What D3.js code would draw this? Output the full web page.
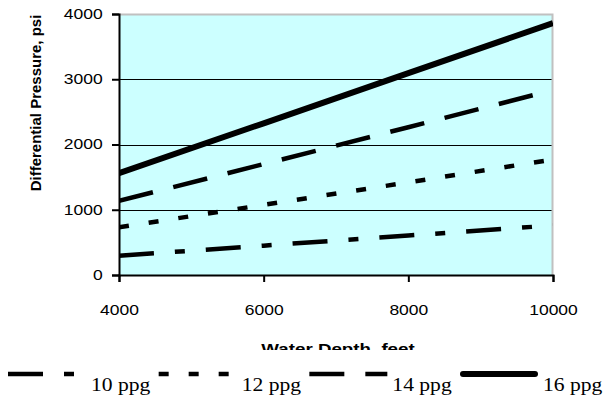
<!DOCTYPE html>
<html>
<head>
<meta charset="utf-8">
<script src="https://cdn.jsdelivr.net/npm/d3@7"></script>
<style>
  html, body { margin: 0; padding: 0; background: #fff; }
  svg { display: block; }
</style>
</head>
<body>
<div id="chart"></div>
<script>
// water depth (feet) and differential pressure (psi) per mud weight
const depths = [4000, 6000, 8000, 10000];
const seriesNames = ['10 ppg', '12 ppg', '14 ppg', '16 ppg'];
const ppg10 = [295, 450, 605, 760];
const ppg12 = [730, 1075, 1420, 1770];
const ppg14 = [1135, 1700, 2265, 2835];
const ppg16 = [1560, 2325, 3095, 3860];
const xTicks = [4000, 6000, 8000, 10000];
const yTicks = [0, 1000, 2000, 3000, 4000];

(function () {
  const W = 603, H = 397;
  const margin = { top: 14, right: 50, bottom: 122, left: 119 };
  const w = W - margin.left - margin.right;
  const h = H - margin.top - margin.bottom;
  const stretch = 1.25; // text in the original is widened horizontally
  const sans = '"Liberation Sans", Arial, sans-serif';
  const serif = '"Liberation Serif", "Times New Roman", serif';

  const series = [
    { name: seriesNames[0], values: ppg10, dash: '35,21,10,21', width: 4.5 },
    { name: seriesNames[1], values: ppg12, dash: '10,20', width: 4.5 },
    { name: seriesNames[2], values: ppg14, dash: '35,21', width: 4.5 },
    { name: seriesNames[3], values: ppg16, dash: null, width: 6 },
  ];

  const svg = d3.select('#chart').append('svg')
    .attr('width', W)
    .attr('height', H);

  const g = svg.append('g').attr('transform', `translate(${margin.left},${margin.top})`);

  const x = d3.scaleLinear().domain([4000, 10000]).range([0, w]);
  const y = d3.scaleLinear().domain([0, 4000]).range([h, 0]);

  g.append('rect')
    .attr('width', w)
    .attr('height', h)
    .attr('fill', '#ccffff');

  // horizontal grid
  g.selectAll('.grid')
    .data(yTicks.filter(d => d > 0 && d < 4000))
    .join('line')
    .attr('x1', 0)
    .attr('x2', w)
    .attr('y1', d => Math.round(y(d)) + 0.5)
    .attr('y2', d => Math.round(y(d)) + 0.5)
    .attr('stroke', '#000')
    .attr('stroke-width', 1);

  // gray frame top / right
  g.append('path')
    .attr('d', `M0,0.5H${w - 0.5}V${h}`)
    .attr('fill', 'none')
    .attr('stroke', '#c0c0c0')
    .attr('stroke-width', 2);

  svg.append('clipPath').attr('id', 'plotClip')
    .append('rect').attr('width', w).attr('height', h);

  const line = d3.line()
    .x((d, i) => x(depths[i]))
    .y(d => y(d));

  g.append('g')
    .attr('clip-path', 'url(#plotClip)')
    .selectAll('path')
    .data(series)
    .join('path')
    .attr('d', d => line(d.values))
    .attr('fill', 'none')
    .attr('stroke', '#000')
    .attr('stroke-width', d => d.width)
    .attr('stroke-dasharray', d => d.dash);

  // axes
  g.append('g')
    .attr('transform', `translate(0,${h})`)
    .call(d3.axisBottom(x).tickValues(xTicks).tickSize(7).tickPadding(23).tickFormat(d3.format('d')))
    .call(a => a.select('.domain').attr('stroke', '#000').attr('stroke-width', 2))
    .call(a => a.selectAll('.tick line').attr('stroke', '#000').attr('stroke-width', 2))
    .selectAll('text')
    .attr('fill', '#000')
    .style('font-family', sans)
    .style('font-size', '14px')
    .attr('transform', `scale(${stretch},1)`);

  g.append('g')
    .call(d3.axisLeft(y).tickValues(yTicks).tickSize(7).tickPadding(6).tickFormat(d3.format('d')))
    .call(a => a.select('.domain').attr('stroke', '#000').attr('stroke-width', 2))
    .call(a => a.selectAll('.tick line').attr('stroke', '#000').attr('stroke-width', 2))
    .selectAll('text')
    .attr('fill', '#000')
    .style('font-family', sans)
    .style('font-size', '14px')
    .attr('transform', `scale(${stretch},1)`);

  // axis titles
  svg.append('text')
    .attr('transform', 'translate(41,103) rotate(-90)')
    .attr('text-anchor', 'middle')
    .style('font-family', sans)
    .style('font-size', '15px')
    .style('font-weight', 700)
    .text('Differential Pressure, psi');

  svg.append('text')
    .attr('transform', `translate(338,354) scale(${stretch},1)`)
    .attr('text-anchor', 'middle')
    .style('font-family', sans)
    .style('font-size', '15px')
    .style('font-weight', 700)
    .text('Water Depth, feet');

  // legend box hides the lower part of the x title
  const leg = svg.append('g');
  leg.append('rect')
    .attr('x', 0)
    .attr('y', 350)
    .attr('width', W)
    .attr('height', H - 350)
    .attr('fill', '#fff');

  const legX = d3.scalePoint().domain(seriesNames).range([8, 460]);

  const item = leg.selectAll('.item')
    .data(series)
    .join('g')
    .attr('transform', d => `translate(${legX(d.name)},374)`);

  item.append('line')
    .attr('x1', d => d.dash ? 0 : 3)
    .attr('x2', d => d.dash ? 78 : 75)
    .attr('stroke', '#000')
    .attr('stroke-width', d => d.width)
    .attr('stroke-linecap', d => d.dash ? 'butt' : 'round')
    .attr('stroke-dasharray', d => d.dash);

  item.append('text')
    .attr('transform', 'translate(83,17) scale(1.2,1)')
    .style('font-family', serif)
    .style('font-size', '18px')
    .text(d => d.name);
})();
</script>
</body>
</html>
